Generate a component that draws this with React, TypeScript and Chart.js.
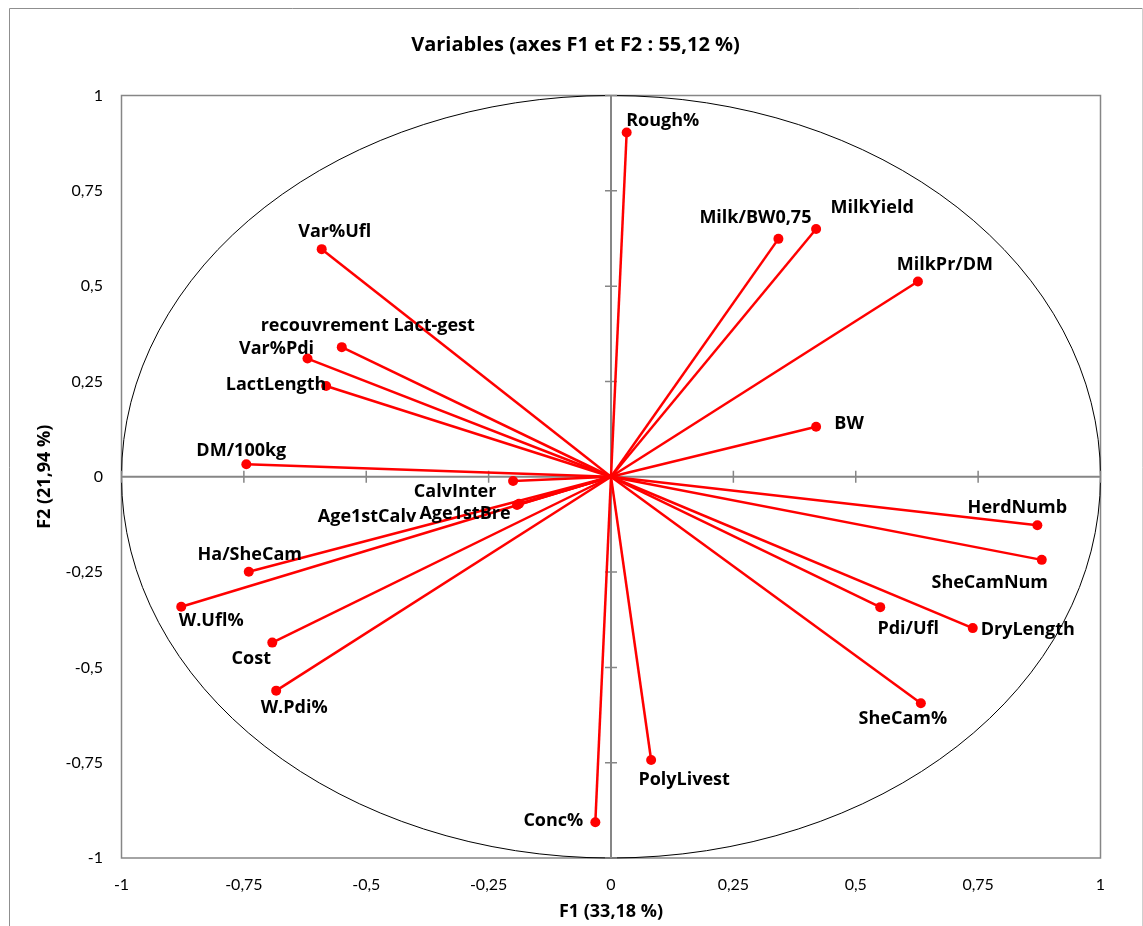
import React, { useEffect, useRef } from 'react';
import { Chart, registerables } from 'chart.js';

Chart.register(...registerables);

// ---- data ----
const VARIABLES = [
  'Rough%', 'Milk/BW0,75', 'MilkYield', 'MilkPr/DM', 'BW', 'HerdNumb',
  'SheCamNum', 'Pdi/Ufl', 'DryLength', 'SheCam%', 'PolyLivest', 'Conc%',
  'W.Pdi%', 'Cost', 'W.Ufl%', 'Ha/SheCam', 'Age1stCalv', 'Age1stBre',
  'CalvInter', 'DM/100kg', 'LactLength', 'Var%Pdi', 'recouvrement Lact-gest', 'Var%Ufl',
];
const F1 = [
  0.032, 0.342, 0.419, 0.627, 0.419, 0.871,
  0.880, 0.550, 0.739, 0.633, 0.082, -0.032,
  -0.684, -0.692, -0.878, -0.740, -0.192, -0.188,
  -0.200, -0.745, -0.582, -0.620, -0.550, -0.591,
];
const F2 = [
  0.903, 0.624, 0.650, 0.512, 0.131, -0.127,
  -0.218, -0.342, -0.397, -0.594, -0.743, -0.906,
  -0.561, -0.435, -0.341, -0.249, -0.074, -0.071,
  -0.011, 0.033, 0.238, 0.310, 0.340, 0.597,
];
const TICKS = [-1, -0.75, -0.5, -0.25, 0, 0.25, 0.5, 0.75, 1];
const TITLE = 'Variables (axes F1 et F2 : 55,12 %)';
const X_TITLE = 'F1 (33,18 %)';
const Y_TITLE = 'F2 (21,94 %)';

// ---- label placement (text centre offset from marker, px) ----
const LABEL_OFFSETS: [number, number][] = [
  [36, -12], [-23, -21], [56, -21], [27, -17], [33, -3], [-20, -17],
  [-52, 23], [28, 22], [55, 2], [-18, 16], [33, 20], [-42, -1],
  [18, 17], [-21, 16], [30, 14], [1, -17], [-150, 12], [-54, 10],
  [-58, 11], [-5, -13], [-50, -1], [-31, -10], [26, -21], [13, -17],
];

const fmt = (v: number) => String(Math.round(v * 100) / 100).replace('.', ',');

const RED = '#ff0000';
const AXIS_GREY = '#868686';
const BOLD_FAMILY = '"Open Sans"';

const decorPlugin = {
  id: 'decor',
  beforeDraw(chart: any) {
    const ctx = chart.ctx;
    ctx.save();
    ctx.fillStyle = '#ffffff';
    ctx.fillRect(0, 0, chart.width, chart.height);
    ctx.lineWidth = 1;
    ctx.strokeStyle = '#8f8f8f';
    ctx.beginPath();
    ctx.moveTo(9.5, 1000);
    ctx.lineTo(9.5, 8.5);
    ctx.lineTo(1142.5, 8.5);
    ctx.stroke();
    ctx.strokeStyle = '#cfcfcf';
    ctx.beginPath();
    ctx.moveTo(1142.5, 8.5);
    ctx.lineTo(1142.5, 1000);
    ctx.stroke();
    ctx.fillStyle = '#000';
    ctx.font = `bold 20px ${BOLD_FAMILY}`;
    ctx.textAlign = 'center';
    ctx.textBaseline = 'middle';
    ctx.fillText(TITLE, 575.5, 45);
    ctx.restore();
  },
  beforeDatasetsDraw(chart: any) {
    const { ctx, chartArea: a, scales } = chart;
    const xs = scales.x;
    const ys = scales.y;
    ctx.save();
    // frame
    ctx.strokeStyle = AXIS_GREY;
    ctx.lineWidth = 1.5;
    ctx.strokeRect(a.left, a.top, a.right - a.left, a.bottom - a.top);
    // correlation circle
    const cx = xs.getPixelForValue(0);
    const cy = ys.getPixelForValue(0);
    const rx = xs.getPixelForValue(1) - cx;
    const ry = cy - ys.getPixelForValue(1);
    ctx.strokeStyle = '#000';
    ctx.lineWidth = 1;
    ctx.beginPath();
    ctx.ellipse(cx, cy, rx, ry, 0, 0, Math.PI * 2);
    ctx.stroke();
    // zero axes
    ctx.strokeStyle = AXIS_GREY;
    ctx.lineWidth = 2;
    ctx.beginPath();
    ctx.moveTo(a.left, cy);
    ctx.lineTo(a.right, cy);
    ctx.moveTo(cx, a.top);
    ctx.lineTo(cx, a.bottom);
    ctx.stroke();
    ctx.lineWidth = 1.5;
    ctx.beginPath();
    TICKS.forEach((t) => {
      const px = xs.getPixelForValue(t);
      ctx.moveTo(px, cy - 6);
      ctx.lineTo(px, cy + 6);
      const py = ys.getPixelForValue(t);
      ctx.moveTo(cx - 6, py);
      ctx.lineTo(cx + 6, py);
    });
    ctx.stroke();
    ctx.restore();
  },
  afterDatasetsDraw(chart: any) {
    const ctx = chart.ctx;
    ctx.save();
    ctx.fillStyle = '#000';
    ctx.font = `bold 18px ${BOLD_FAMILY}`;
    ctx.textAlign = 'center';
    ctx.textBaseline = 'middle';
    VARIABLES.forEach((name, i) => {
      const meta = chart.getDatasetMeta(i);
      const pt = meta.data[1];
      if (!pt) return;
      const [dx, dy] = LABEL_OFFSETS[i];
      ctx.fillText(name, pt.x + dx, pt.y + dy);
    });
    ctx.restore();
  },
};

export default function App() {
  const canvasRef = useRef<HTMLCanvasElement | null>(null);

  useEffect(() => {
    document.body.style.margin = '0';
    document.body.style.overflow = 'hidden';
    const canvas = canvasRef.current;
    if (!canvas) return;

    const datasets = VARIABLES.map((name, i) => ({
      label: name,
      data: [
        { x: 0, y: 0 },
        { x: F1[i], y: F2[i] },
      ],
      showLine: true,
      borderColor: RED,
      borderWidth: 2.5,
      backgroundColor: RED,
      pointBackgroundColor: RED,
      pointBorderColor: RED,
      pointBorderWidth: 0,
      pointRadius: [0, 5],
      pointHoverRadius: [0, 5],
    }));

    const tickFont = { family: 'Lato', size: 16 };
    const titleFont = { family: BOLD_FAMILY, size: 18, weight: 'bold' as const };

    const chart = new Chart(canvas, {
      type: 'scatter',
      data: { datasets },
      options: {
        responsive: false,
        animation: false,
        events: [],
        layout: { padding: { top: 95.5, right: 42.5, bottom: 0, left: 0 } },
        plugins: {
          legend: { display: false },
          tooltip: { enabled: false },
          title: { display: false },
        },
        scales: {
          x: {
            type: 'linear',
            min: -1,
            max: 1,
            afterBuildTicks: (s: any) => {
              s.ticks = TICKS.map((v) => ({ value: v }));
            },
            afterFit: (s: any) => {
              s.height = 68;
            },
            grid: { display: false, drawTicks: false },
            border: { display: false },
            ticks: {
              padding: 16.8,
              color: '#000',
              font: tickFont,
              maxRotation: 0,
              autoSkip: false,
              callback: (v: any) => fmt(Number(v)),
            },
            title: {
              display: true,
              text: X_TITLE,
              color: '#000',
              font: titleFont,
              padding: { top: 0, bottom: 3.2 },
            },
          },
          y: {
            type: 'linear',
            min: -1,
            max: 1,
            afterBuildTicks: (s: any) => {
              s.ticks = TICKS.map((v) => ({ value: v }));
            },
            afterFit: (s: any) => {
              s.width = 121.5;
            },
            grid: { display: false, drawTicks: false },
            border: { display: false },
            ticks: {
              padding: 18.5,
              color: '#000',
              font: tickFont,
              autoSkip: false,
              callback: (v: any) => fmt(Number(v)),
            },
            title: {
              display: true,
              text: Y_TITLE,
              color: '#000',
              font: titleFont,
              padding: { top: 34.2, bottom: 0 },
            },
          },
        },
      },
      plugins: [decorPlugin],
    });

    return () => {
      chart.destroy();
    };
  }, []);

  return (
    <div style={{ width: 1143, height: 926 }}>
      <canvas ref={canvasRef} width={1143} height={926} style={{ display: 'block' }} />
    </div>
  );
}
